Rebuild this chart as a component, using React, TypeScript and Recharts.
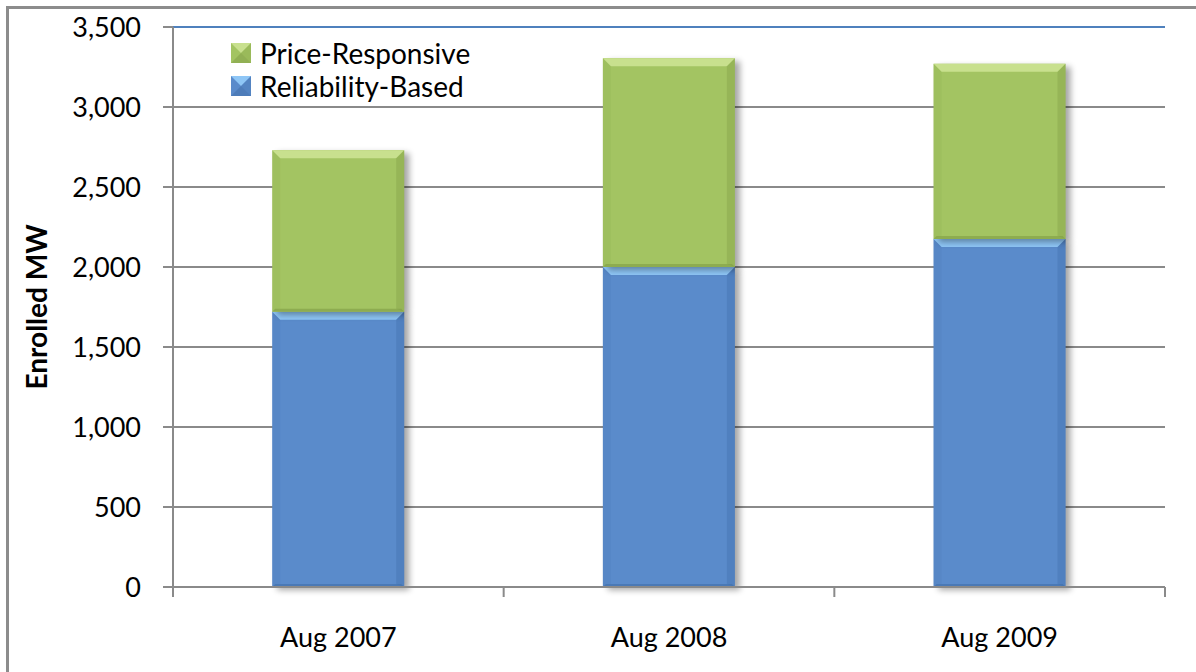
import React from "react";
import {
  BarChart,
  Bar,
  XAxis,
  YAxis,
  CartesianGrid,
  ReferenceLine,
  Legend,
} from "recharts";

// values (MW)
const categories = ["Aug 2007", "Aug 2008", "Aug 2009"];
const reliabilityBased = [1720, 2000, 2175];
const priceResponsive = [1010, 1305, 1095];
const yTicks = [0, 500, 1000, 1500, 2000, 2500, 3000, 3500];
const legendOrder = ["price", "reliability"];

const data = categories.map((name, i) => ({
  name,
  reliability: reliabilityBased[i],
  price: priceResponsive[i],
}));

const FONT = "Lato, 'Open Sans', sans-serif";
const GRID = "#8a8a8a";
const FRAME_BLUE = "#4f81bd";
const X_TICK_MARGIN = 49;

const palette: Record<string, { main: string; light: string; dark: string }> = {
  reliability: { main: "#5a8bcb", light: "#8ec6f6", dark: "#3f6ea8" },
  price: { main: "#a3c462", light: "#c8e08e", dark: "#7f9c45" },
};

const BevelBar = (props: any) => {
  const { x, y, width: w, height: h, dataKey } = props;
  if (!h || h <= 0) return null;
  const c = palette[dataKey] || palette.reliability;
  const b = 8;
  return (
    <g>
      <defs>
        <filter id="barShadow" x="-20%" y="-20%" width="140%" height="140%">
          <feGaussianBlur stdDeviation="3" />
        </filter>
      </defs>
      <rect x={x + 5} y={y + 3} width={w} height={h} fill="#000" opacity={0.35} filter="url(#barShadow)" />
      <rect x={x} y={y} width={w} height={h} fill={c.main} />
      {/* top bevel */}
      <polygon
        points={`${x},${y} ${x + w},${y} ${x + w - b},${y + b} ${x + b},${y + b}`}
        fill={c.light}
      />
      {/* left edge */}
      <polygon
        points={`${x},${y} ${x + b},${y + b} ${x + b},${y + h - 3} ${x},${y + h}`}
        fill={c.dark}
        opacity={0.12}
      />
      {/* right edge */}
      <polygon
        points={`${x + w},${y} ${x + w - b},${y + b} ${x + w - b},${y + h - 3} ${x + w},${y + h}`}
        fill={c.dark}
        opacity={0.35}
      />
      {/* bottom edge */}
      <polygon
        points={`${x},${y + h} ${x + 3},${y + h - 3} ${x + w - 3},${y + h - 3} ${x + w},${y + h}`}
        fill={c.dark}
        opacity={0.6}
      />
    </g>
  );
};

// category label plus the small tick marks on the category boundaries
const XTick = (props: any) => {
  const { x, y, payload, index, visibleTicksCount, width } = props;
  const band = width / visibleTicksCount;
  const axisY = y - X_TICK_MARGIN;
  const last = index === visibleTicksCount - 1;
  return (
    <g>
      <line x1={x - band / 2} x2={x - band / 2} y1={axisY} y2={axisY + 10} stroke={GRID} strokeWidth={2} />
      {last && (
        <line x1={x + band / 2} x2={x + band / 2} y1={axisY} y2={axisY + 10} stroke={GRID} strokeWidth={2} />
      )}
      <text
        x={x}
        y={y}
        textAnchor="middle"
        dominantBaseline="central"
        fontFamily={FONT}
        fontSize={27}
        fill="#000"
      >
        {payload.value}
      </text>
    </g>
  );
};

const LegendIcon = ({ k }: { k: string }) => {
  const c = palette[k];
  const s = 20;
  return (
    <svg width={s} height={s} style={{ marginRight: 9, flex: "none" }}>
      <rect x={0} y={0} width={s} height={s} fill={c.main} />
      <polygon points={`0,0 ${s},0 ${s / 2},${s / 2}`} fill={c.light} />
      <polygon points={`0,${s} ${s},${s} ${s / 2},${s / 2}`} fill={c.dark} opacity={0.5} />
      <polygon points={`${s},0 ${s / 2},${s / 2} ${s},${s}`} fill={c.dark} opacity={0.25} />
    </svg>
  );
};

const LegendBox = (props: any) => {
  const items = [...(props.payload || [])].sort(
    (a: any, b: any) => legendOrder.indexOf(a.dataKey) - legendOrder.indexOf(b.dataKey)
  );
  return (
    <div style={{ fontFamily: FONT, fontSize: 28, color: "#000" }}>
      {items.map((it: any) => (
        <div key={it.dataKey} style={{ display: "flex", alignItems: "center", height: 33 }}>
          <LegendIcon k={it.dataKey} />
          <span>{it.value}</span>
        </div>
      ))}
    </div>
  );
};

const YLabel = (props: any) => {
  const vb = props.viewBox || {};
  const cx = 36;
  const cy = vb.y + vb.height / 2;
  return (
    <text
      x={cx}
      y={cy}
      transform={`rotate(-90, ${cx}, ${cy})`}
      textAnchor="middle"
      dominantBaseline="central"
      fontFamily={FONT}
      fontWeight="bold"
      fontSize={28}
      fill="#000"
    >
      Enrolled MW
    </text>
  );
};

export default function App() {
  return (
    <div style={{ position: "absolute", left: 0, top: 0, width: 1196, height: 672, overflow: "hidden", background: "#fff" }}>
      <div
        style={{
          position: "absolute",
          left: 6,
          top: 6,
          width: 1300,
          height: 800,
          borderLeft: "3px solid #8c8c8c",
          borderTop: "3px solid #8c8c8c",
        }}
      />
      <BarChart
        width={1196}
        height={672}
        data={data}
        margin={{ top: 27, right: 31, bottom: 25, left: 0 }}
        barCategoryGap="30%"
        style={{ position: "absolute", left: 0, top: 0 }}
      >
        <CartesianGrid vertical={false} stroke={GRID} strokeWidth={2} />
        <XAxis
          dataKey="name"
          height={60}
          tickLine={false}
          tickSize={0}
          axisLine={{ stroke: GRID, strokeWidth: 2 }}
          tickMargin={X_TICK_MARGIN}
          tick={<XTick />}
        />
        <YAxis
          domain={[0, 3500]}
          ticks={yTicks}
          width={173}
          tickSize={10}
          tickMargin={22}
          axisLine={{ stroke: GRID, strokeWidth: 2 }}
          tickLine={{ stroke: GRID, strokeWidth: 2 }}
          tick={{ fontFamily: FONT, fontSize: 27, fill: "#000" }}
          tickFormatter={(v: number) => v.toLocaleString("en-US")}
          label={<YLabel />}
        />
        <YAxis
          yAxisId="r"
          orientation="right"
          domain={[0, 3500]}
          width={0}
          tick={false}
          tickLine={false}
          axisLine={{ stroke: FRAME_BLUE, strokeWidth: 2 }}
        />
        <ReferenceLine y={3500} stroke={FRAME_BLUE} strokeWidth={2} />
        <Legend
          layout="vertical"
          align="center"
          verticalAlign="middle"
          content={<LegendBox />}
          wrapperStyle={{ position: "absolute", left: 231, top: 36, width: "auto", height: "auto" }}
        />
        <Bar dataKey="reliability" name="Reliability-Based" stackId="a" fill={palette.reliability.main} shape={<BevelBar />} isAnimationActive={false} />
        <Bar dataKey="price" name="Price-Responsive" stackId="a" fill={palette.price.main} shape={<BevelBar />} isAnimationActive={false} />
      </BarChart>
    </div>
  );
}
